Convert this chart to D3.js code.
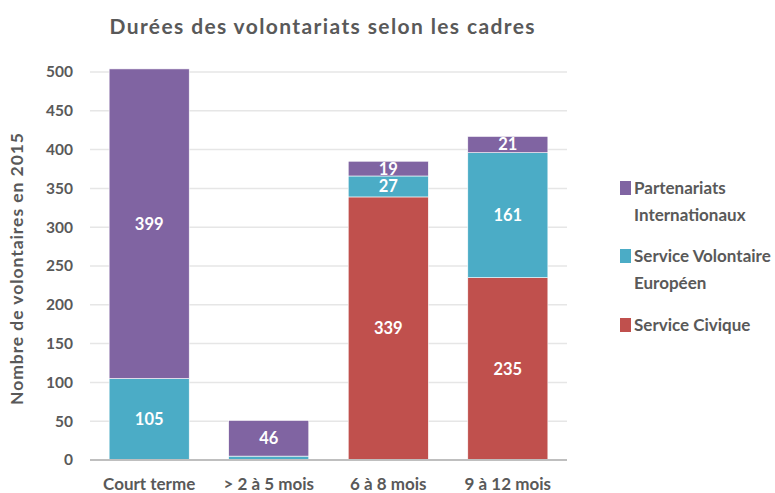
<!DOCTYPE html>
<html>
<head>
<meta charset="utf-8">
<script src="https://cdn.jsdelivr.net/npm/d3@7"></script>
<style>
  body { margin: 0; background: #fff; }
  text { font-family: Lato, "Open Sans", sans-serif; }
</style>
</head>
<body>
<div id="chart"></div>
<script>
// Chart data
const categories = ["Court terme", "> 2 à 5 mois", "6 à 8 mois", "9 à 12 mois"];
const serviceCivique = [0, 0, 339, 235];
const serviceVolontaire = [105, 5, 27, 161];
const partenariats = [399, 46, 19, 21];
const yTicks = [0, 50, 100, 150, 200, 250, 300, 350, 400, 450, 500];

const seriesNames = ["Service Civique", "Service Volontaire Européen", "Partenariats Internationaux"];
const seriesColors = ["#C0504D", "#4BACC6", "#8064A2"];

function createVisualization() {
    const svgWidth = 775;
    const svgHeight = 493;
    const margin = { top: 72, right: 208, bottom: 33, left: 90 };
    const width = svgWidth - margin.left - margin.right;
    const height = svgHeight - margin.top - margin.bottom;

    const svg = d3.select("#chart")
        .append("svg")
        .attr("width", svgWidth)
        .attr("height", svgHeight);

    const g = svg.append("g")
        .attr("transform", `translate(${margin.left},${margin.top})`);

    // Build table for stacking
    const table = categories.map((c, i) => ({
        cat: c,
        sc: serviceCivique[i],
        sve: serviceVolontaire[i],
        pi: partenariats[i]
    }));
    const keys = ["sc", "sve", "pi"];
    const stacked = d3.stack().keys(keys)(table);

    // Scales
    const xScale = d3.scaleBand()
        .domain(categories)
        .range([0, width])
        .paddingInner(0.33)
        .paddingOuter(0.16);

    const yScale = d3.scaleLinear()
        .domain([0, 500])
        .range([height, 0]);

    // Gridlines
    g.selectAll(".grid")
        .data(yTicks.filter(t => t > 0))
        .enter().append("line")
        .attr("x1", 0)
        .attr("x2", width)
        .attr("y1", d => yScale(d))
        .attr("y2", d => yScale(d))
        .attr("stroke", "#e6e6e6")
        .attr("stroke-width", 1.5);

    // Y tick labels
    g.selectAll(".ylab")
        .data(yTicks)
        .enter().append("text")
        .attr("x", -17)
        .attr("y", d => yScale(d))
        .attr("dy", "0.35em")
        .attr("text-anchor", "end")
        .attr("font-size", 15.5)
        .attr("font-weight", "bold")
        .attr("fill", "#595959")
        .text(d => d);

    // Bars
    const layers = g.selectAll(".layer")
        .data(stacked)
        .enter().append("g")
        .attr("fill", (d, i) => seriesColors[i]);

    layers.selectAll("rect")
        .data(d => d.filter(p => p[1] - p[0] > 0))
        .enter().append("rect")
        .attr("x", d => xScale(d.data.cat))
        .attr("width", xScale.bandwidth())
        .attr("y", d => yScale(d[1]))
        .attr("height", d => yScale(d[0]) - yScale(d[1]))
        .attr("stroke", "#fff")
        .attr("stroke-width", 0.6);

    // Data labels
    layers.selectAll(".lbl")
        .data(d => d.filter(p => p[1] - p[0] >= 15))
        .enter().append("text")
        .attr("x", d => xScale(d.data.cat) + xScale.bandwidth() / 2)
        .attr("y", d => (yScale(d[0]) + yScale(d[1])) / 2)
        .attr("dy", "0.36em")
        .attr("text-anchor", "middle")
        .attr("font-size", 16.5)
        .attr("font-weight", "bold")
        .attr("fill", "#fff")
        .text(d => d[1] - d[0]);

    // Baseline
    g.append("line")
        .attr("x1", 0)
        .attr("x2", width)
        .attr("y1", height)
        .attr("y2", height)
        .attr("stroke", "#bfbfbf")
        .attr("stroke-width", 2);

    // X labels
    g.selectAll(".xlab")
        .data(categories)
        .enter().append("text")
        .attr("x", d => xScale(d) + xScale.bandwidth() / 2)
        .attr("y", height + 30)
        .attr("text-anchor", "middle")
        .attr("font-size", 17)
        .attr("font-weight", "bold")
        .attr("fill", "#595959")
        .text(d => d);

    // Title
    svg.append("text")
        .attr("x", 322)
        .attr("y", 34)
        .attr("text-anchor", "middle")
        .attr("font-size", 21)
        .attr("font-weight", "bold")
        .attr("fill", "#595959")
        .attr("textLength", 425)
        .attr("lengthAdjust", "spacing")
        .text("Durées des volontariats selon les cadres");

    // Y axis title
    svg.append("text")
        .attr("transform", "translate(23,269) rotate(-90)")
        .attr("text-anchor", "middle")
        .attr("font-size", 17.5)
        .attr("font-weight", "bold")
        .attr("fill", "#595959")
        .attr("textLength", 272)
        .attr("lengthAdjust", "spacing")
        .text("Nombre de volontaires en 2015");

    // Legend
    const legendItems = [
        { lines: ["Partenariats", "Internationaux"], color: seriesColors[2], y: 188 },
        { lines: ["Service Volontaire", "Européen"], color: seriesColors[1], y: 256 },
        { lines: ["Service Civique"], color: seriesColors[0], y: 325 }
    ];
    const legend = svg.selectAll(".legend")
        .data(legendItems)
        .enter().append("g");

    legend.append("rect")
        .attr("x", 620)
        .attr("y", d => d.y - 7)
        .attr("width", 11)
        .attr("height", 14)
        .attr("fill", d => d.color);

    legend.each(function(d) {
        d3.select(this).selectAll("text")
            .data(d.lines)
            .enter().append("text")
            .attr("x", 634)
            .attr("y", (t, i) => d.y + i * 27)
            .attr("dy", "0.35em")
            .attr("font-size", 17)
            .attr("font-weight", "bold")
            .attr("fill", "#595959")
            .text(t => t);
    });
}

createVisualization();
</script>
</body>
</html>
